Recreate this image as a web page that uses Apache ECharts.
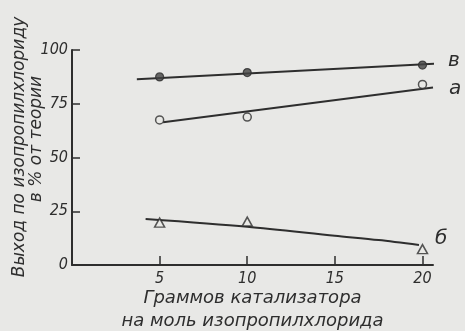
<!DOCTYPE html>
<html>
<head>
<meta charset="utf-8">
<script src="https://cdn.jsdelivr.net/npm/echarts@6/dist/echarts.min.js"></script>
<style>
html,body{margin:0;padding:0;background:#e8e8e6;}
#c{width:465px;height:331px;}
</style>
</head>
<body>
<div id="c"></div>
<script>
// Data
const xTicks = [5, 10, 15, 20];
const yTicks = [0, 25, 50, 75, 100];
// measured points
const ptsV = [[5, 87.5], [10, 89.5], [20, 93.0]];   // в (filled circles)
const ptsA = [[5, 67.5], [10, 68.8], [20, 84.0]];   // а (open circles)
const ptsB = [[5, 19.7], [10, 20.2], [20, 7.4]];    // б (triangles)
// drawn trend curves
const lineV = [[3.7, 86.4], [21.0, 93.8]];
const lineA = [[5.2, 66.4], [20.6, 82.6]];
const lineB = [[4.2, 21.4], [10, 17.8], [15, 13.6], [17.5, 11.6], [19.8, 9.3]];
const xName = 'Граммов катализатора\nна моль изопропилхлорида';
const yName1 = 'Выход по изопропилхлориду';
const yName2 = 'в % от теории';

const ink = '#2e2e2e';
const bg = '#e8e8e6';
const fontTick = "'Liberation Sans Narrow', 'DejaVu Sans Condensed', 'DejaVu Sans', sans-serif";
const fontText = "'DejaVu Sans', sans-serif";

const chart = echarts.init(document.getElementById('c'), null, {renderer: 'canvas'});

function lineSeries(name, data, labelText, offset, smooth) {
  return {
    type: 'line', name: name, data: data, smooth: smooth || false,
    symbol: 'none', z: 2,
    lineStyle: {color: ink, width: 2},
    endLabel: {
      show: true, formatter: labelText, color: ink,
      fontSize: 20, fontStyle: 'italic', fontFamily: fontText,
      distance: 4, offset: offset
    }
  };
}

chart.setOption({
  backgroundColor: bg,
  animation: false,
  grid: {left: 72, right: 32, top: 50, bottom: 66, outerBoundsMode: 'none', containLabel: false},
  xAxis: {
    type: 'value', min: 0, max: 20.6, interval: 5,
    name: xName, nameLocation: 'middle', nameGap: 22, nameMoveOverlap: false,
    nameTextStyle: {fontSize: 18, fontStyle: 'italic', fontFamily: fontText, color: ink, lineHeight: 23},
    axisLine: {show: true, lineStyle: {color: ink, width: 2}},
    axisTick: {show: true, inside: true, length: 9, customValues: xTicks, lineStyle: {color: ink, width: 1.5}},
    axisLabel: {customValues: xTicks, margin: 6, fontSize: 16, fontStyle: 'italic', fontFamily: fontTick, color: ink},
    splitLine: {show: false}
  },
  yAxis: {
    type: 'value', min: 0, max: 100, interval: 25,
    axisLine: {show: true, lineStyle: {color: ink, width: 2}},
    axisTick: {show: true, inside: true, length: 8, customValues: yTicks, lineStyle: {color: ink, width: 1.5}},
    axisLabel: {customValues: yTicks, margin: 4, fontSize: 16, fontStyle: 'italic', fontFamily: fontTick, color: ink},
    splitLine: {show: false}
  },
  graphic: [
    {type: 'text', x: 20, y: 147, rotation: Math.PI / 2,
     style: {text: yName1, align: 'center', verticalAlign: 'middle', fill: ink,
             font: 'italic 17px ' + fontText}},
    {type: 'text', x: 37, y: 139, rotation: Math.PI / 2,
     style: {text: yName2, align: 'center', verticalAlign: 'middle', fill: ink,
             font: 'italic 17px ' + fontText}}
  ],
  series: [
    lineSeries('в', lineV, 'в', [10, -3]),
    lineSeries('а', lineA, 'а', [12, 1]),
    lineSeries('б', lineB, 'б', [12, -6], 0.3),
    {type: 'scatter', name: 'в pts', data: ptsV, symbol: 'circle', symbolSize: 8, z: 3,
     itemStyle: {color: '#444', borderColor: ink, borderWidth: 1.2}},
    {type: 'scatter', name: 'а pts', data: ptsA, symbol: 'circle', symbolSize: 8, z: 3,
     itemStyle: {color: bg, borderColor: ink, borderWidth: 1.5}},
    {type: 'scatter', name: 'б pts', data: ptsB, symbol: 'triangle', symbolSize: [10, 9], z: 3,
     itemStyle: {color: bg, borderColor: ink, borderWidth: 1.5}}
  ]
});
</script>
</body>
</html>
